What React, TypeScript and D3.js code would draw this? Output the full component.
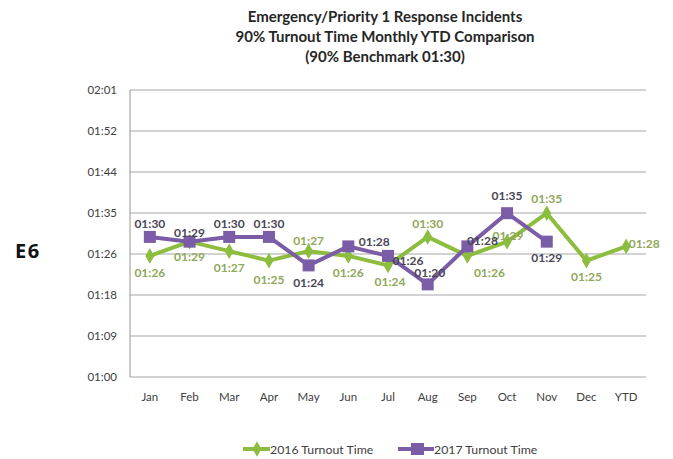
import React from "react";
import * as d3 from "d3";

const categories = ["Jan", "Feb", "Mar", "Apr", "May", "Jun", "Jul", "Aug", "Sep", "Oct", "Nov", "Dec", "YTD"];
// seconds
const values2016 = [86, 89, 87, 85, 87, 86, 84, 90, 86, 89, 95, 85, 88];
const values2017 = [90, 89, 90, 90, 84, 88, 86, 80, 88, 95, 89];
const yTickValues = [60.48, 69.12, 77.76, 86.4, 95.04, 103.68, 112.32, 120.96];
const yTickLabels = ["01:00", "01:09", "01:18", "01:26", "01:35", "01:44", "01:52", "02:01"];
// label placement: [dx, dy] relative to point
const pos2016: [number, number][] = [[0, 17], [0, 15], [0, 17], [0, 19], [0, -10], [0, 17], [2, 17], [0, -13], [22, 17], [1, -6], [0, -14], [0, 16], [18, -2]];
const pos2017: [number, number][] = [[0, -13], [0, -9], [0, -13], [0, -13], [0, 18], [26, -4], [20, 5], [2, -11], [15, -5], [0, -17], [0, 16]];

const fmt = (s: number) => {
  const m = Math.floor(s / 60);
  const sec = Math.round(s - m * 60);
  return `${String(m).padStart(2, "0")}:${String(sec).padStart(2, "0")}`;
};

export default function App() {
  const W = 673, H = 459;
  const left = 130, right = 646, top = 90, bottom = 377;
  const x = d3.scaleBand<string>().domain(categories).range([left, right]);
  const cx = (c: string) => (x(c) ?? 0) + x.bandwidth() / 2;
  const y = d3.scaleLinear().domain([60.48, 120.96]).range([bottom, top]);
  const green = "#8dbd3f";
  const purple = "#7b5ca6";
  const greenText = "#8fa85a";
  const purpleText = "#4a4658";
  const font = "Lato, 'Open Sans', sans-serif";
  const line = d3.line<number>().x((_, i) => cx(categories[i])).y((d) => y(d));
  const diamond = d3.symbol().type(d3.symbolDiamond).size(70)()!;

  return (
    <svg width={W} height={H} style={{ position: "absolute", left: 0, top: 0, background: "#fff" }} fontFamily={font}>
      <g fontWeight="bold" fontSize={15} fill="#262626" textAnchor="middle">
        <text x={385} y={22}>Emergency/Priority 1 Response Incidents</text>
        <text x={385} y={42}>90% Turnout Time Monthly YTD Comparison</text>
        <text x={385} y={62}>(90% Benchmark 01:30)</text>
      </g>
      <text x={15} y={258} fontWeight="bold" fontSize={20} letterSpacing={1.5} fill="#111" fontFamily="'Open Sans', sans-serif">E6</text>
      {yTickValues.map((v, i) => (
        <g key={v}>
          <line x1={left} x2={right} y1={y(v)} y2={y(v)} stroke="#a6a6a6" strokeWidth={1.2} />
          <text x={117} y={y(v) + 4} textAnchor="end" fontSize={11.5} fill="#404040">{yTickLabels[i]}</text>
        </g>
      ))}
      <line x1={left} x2={left} y1={top} y2={bottom} stroke="#a6a6a6" strokeWidth={1.2} />
      {categories.map((c) => (
        <text key={c} x={cx(c)} y={401} textAnchor="middle" fontSize={11.5} fill="#404040">{c}</text>
      ))}
      <path d={line(values2016) ?? ""} fill="none" stroke={green} strokeWidth={4} strokeLinejoin="round" />
      <path d={line(values2017) ?? ""} fill="none" stroke={purple} strokeWidth={4} strokeLinejoin="round" />
      {values2016.map((v, i) => (
        <path key={i} d={diamond} transform={`translate(${cx(categories[i])},${y(v)})`} fill={green} />
      ))}
      {values2017.map((v, i) => (
        <rect key={i} x={cx(categories[i]) - 6} y={y(v) - 6} width={12} height={12} fill={purple} />
      ))}
      <g fontSize={12} fontWeight="bold" textAnchor="middle">
        {values2016.map((v, i) => (
          <text key={i} x={cx(categories[i]) + pos2016[i][0]} y={y(v) + pos2016[i][1] + 4} fill={greenText}>{fmt(v)}</text>
        ))}
        {values2017.map((v, i) => (
          <text key={i} x={cx(categories[i]) + pos2017[i][0]} y={y(v) + pos2017[i][1] + 4} fill={purpleText}>{fmt(v)}</text>
        ))}
      </g>
      <g fontSize={12.3} fill="#404040">
        <line x1={243} x2={270} y1={449} y2={449} stroke={green} strokeWidth={4} />
        <path d={diamond} transform="translate(257,449)" fill={green} />
        <text x={270} y={453.5}>2016 Turnout Time</text>
        <line x1={398} x2={434} y1={449} y2={449} stroke={purple} strokeWidth={4} />
        <rect x={411} y={443} width={13} height={12} fill={purple} />
        <text x={434} y={453.5}>2017 Turnout Time</text>
      </g>
    </svg>
  );
}
